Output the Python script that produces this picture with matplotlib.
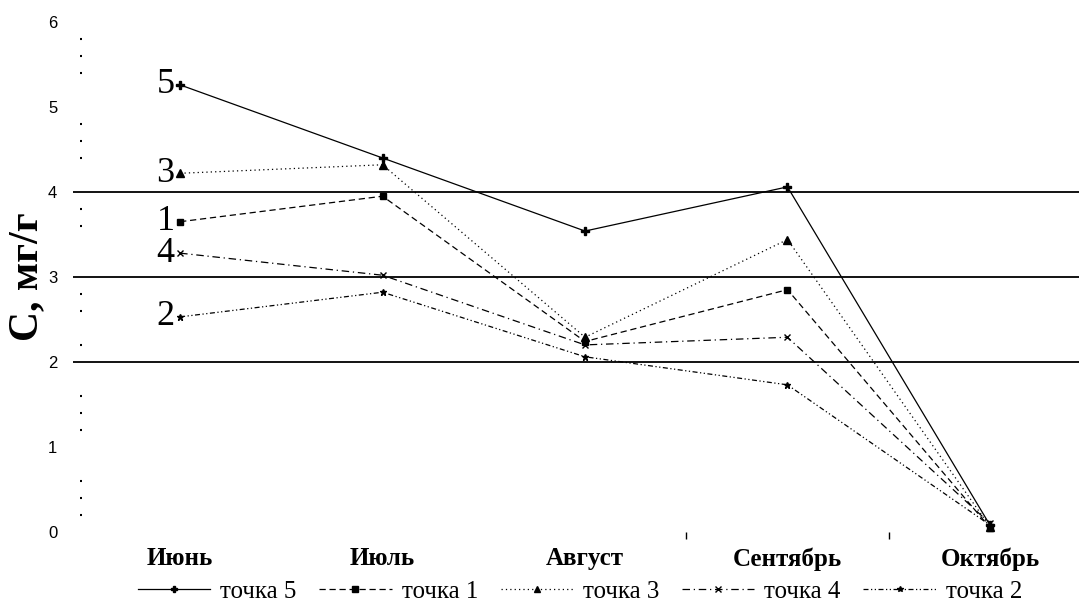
import numpy as np
import matplotlib.pyplot as plt
from matplotlib.ticker import FixedLocator

# месяцы отбора проб
months = ['Июнь', 'Июль', 'Август', 'Сентябрь', 'Октябрь']

# содержание, мг/г
tochka5 = [5.26, 4.40, 3.54, 4.06, 0.08]
tochka1 = [3.65, 3.95, 2.24, 2.85, 0.05]
tochka3 = [4.22, 4.32, 2.29, 3.44, 0.06]
tochka4 = [3.28, 3.02, 2.20, 2.29, 0.10]
tochka2 = [2.53, 2.82, 2.06, 1.73, 0.08]

ref_levels = [2, 3, 4]
y_minor = [0.2, 0.4, 0.6, 1.2, 1.4, 1.6, 2.2, 2.6, 2.8, 3.6, 3.8,
           4.4, 4.6, 4.8, 5.4, 5.6, 5.8]

plt.rcParams['font.family'] = ['Liberation Serif', 'DejaVu Serif']

fig = plt.figure(figsize=(10.79, 6.12), dpi=100)
ax = fig.add_axes([0.075, 0.131, 0.925, 0.833])

x = np.arange(len(months))

ax.hlines(ref_levels, -0.53, 4.44, colors='black', linewidth=1.3, clip_on=False, zorder=1)

ax.plot(x, tochka5, color='black', lw=0.9, ls='-', marker='P', ms=6, label='точка 5')
ax.plot(x, tochka1, color='black', lw=0.9, ls=(0, (5, 3)), marker='s', ms=5, label='точка 1')
ax.plot(x, tochka3, color='black', lw=0.9, ls=(0, (1, 2.5)), marker='^', ms=6, label='точка 3')
ax.plot(x, tochka4, color='black', lw=0.9, ls=(0, (6, 3, 1, 3)), marker='x', ms=5, label='точка 4')
ax.plot(x, tochka2, color='black', lw=0.9, ls=(0, (4, 2, 1, 2, 1, 2)), marker='*', ms=5, label='точка 2')

# подписи точек у июня
for val, name in [(tochka5[0], '5'), (tochka3[0], '3'), (tochka1[0], '1'),
                  (tochka4[0], '4'), (tochka2[0], '2')]:
    ax.annotate(name, (0, val), xytext=(-4, 0), textcoords='offset points',
                ha='right', va='center', fontsize=26)

ax.set_xlim(-0.49, 4.44)
ax.set_ylim(0, 6)
ax.set_xticks(x)
ax.set_xticklabels(months, fontsize=18, fontweight='bold')
ax.tick_params(axis='x', length=0, pad=11)
ax.xaxis.set_minor_locator(FixedLocator([2.5, 3.5]))
ax.tick_params(axis='x', which='minor', length=5, width=1, direction='out')

ax.set_yticks(range(0, 7))
ax.set_yticklabels([str(v) for v in range(0, 7)], fontfamily='Liberation Sans', fontsize=12)
ax.tick_params(axis='y', length=0, pad=17)
ax.yaxis.set_minor_locator(FixedLocator(y_minor))
ax.tick_params(axis='y', which='minor', length=2, width=1.5, direction='inout')

ax.set_ylabel('С, мг/г', fontsize=30, fontweight='bold', labelpad=1)

for s in ax.spines.values():
    s.set_visible(False)

ax.legend(loc='upper center', bbox_to_anchor=(0.5, -0.075), ncol=5, frameon=False,
          fontsize=18, handlelength=2.9, handletextpad=0.4, columnspacing=0.9,
          markerscale=0.8, borderaxespad=0)

fig.savefig('out.png', dpi=100)
